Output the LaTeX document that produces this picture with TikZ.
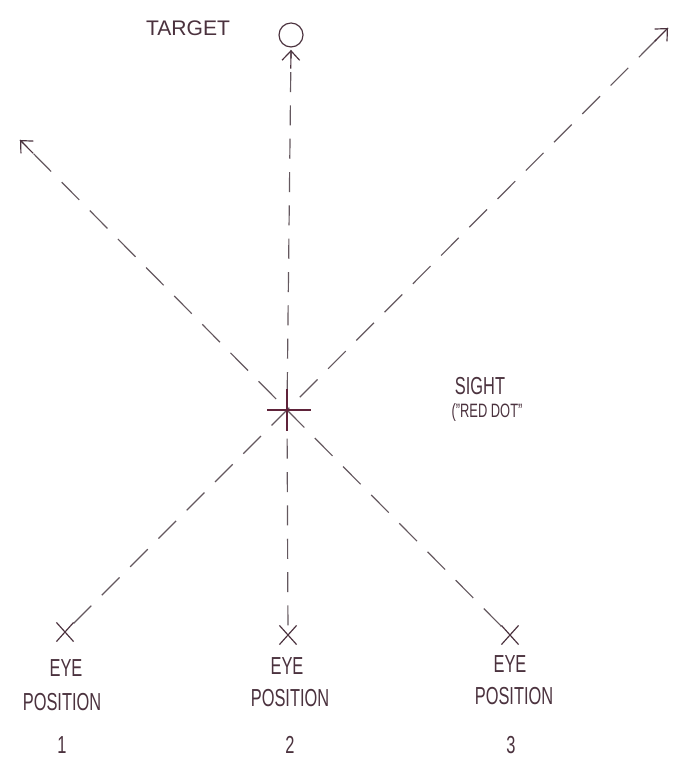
\documentclass[tikz,border=0pt]{standalone}
\usepackage{graphicx}
\usepackage{fontspec}
\setmainfont{Liberation Sans}
\usetikzlibrary{arrows.meta,shapes.misc,calc}
\definecolor{ink}{RGB}{75,50,62}
\definecolor{pen}{RGB}{100,88,95}
\definecolor{dotc}{RGB}{95,35,58}
\newcommand{\tall}[1]{\scalebox{1}[1.5]{#1}}
\begin{document}
\begin{tikzpicture}[x=0.03cm,y=-0.03cm,
  hand/.style={font=\fontsize{14}{16}\selectfont, text=ink, inner sep=0pt},
  eyemark/.style={cross out, draw=ink, line width=1pt, minimum width=0.48cm, minimum height=0.54cm, inner sep=0pt},
  targetmark/.style={circle, draw=ink, line width=1pt, minimum size=0.72cm, inner sep=0pt},
  sightline/.style={draw=pen, line width=1pt, dash pattern=on 0.75cm off 0.45cm},
  vline/.style={draw=pen, line width=1pt, dash pattern=on 0.6cm off 0.4cm},
  tipline/.style={draw=ink, solid, line width=1pt, -{Straight Barb[length=8pt,width=15pt]}}]
\useasboundingbox[fill=white] (0,0) rectangle (679,765);
% marks
\node[targetmark] (tgt) at (291,35) {};
\node[eyemark] (e1) at (65,632) {};
\node[eyemark] (e2) at (288,635) {};
\node[eyemark] (e3) at (510,635) {};
\coordinate (s) at (287,410);
\coordinate (tr) at (668,28);
\coordinate (tl) at (20,140);
\coordinate (tb) at (291,50);
% sight lines
\draw[sightline] (e1) -- (s) -- (tr);
\draw[sightline] (e3) -- (s) -- (tl);
\draw[vline] (e2) -- (s) -- (tb);
% arrow tips
\draw[tipline] ($(tr)!16pt!(s)$) -- (tr);
\draw[tipline] ($(tl)!16pt!(s)$) -- (tl);
\draw[tipline] ($(tb)!16pt!(s)$) -- (tb);
% sight cross
\draw[dotc, line width=1.5pt] (s) ++(-20,0) -- ++(44,0);
\draw[dotc, line width=1.5pt] (s) ++(0,-21) -- ++(0,42);
% labels
\node[hand, font=\fontsize{18}{20}\selectfont] (tlab) at (188,28) {TARGET};
\node[hand] (slab1) at (480,386) {\tall{SIGHT}};
\node[hand, font=\fontsize{11}{13}\selectfont] (slab2) at (487,412) {\tall{("RED DOT"}};
\node[hand] (l1a) at (66,668) {\tall{EYE}};
\node[hand] (l1b) at (62,702) {\tall{POSITION}};
\node[hand] (l1c) at (62,745) {\tall{1}};
\node[hand] (l2a) at (287,666) {\tall{EYE}};
\node[hand] (l2b) at (290,698) {\tall{POSITION}};
\node[hand] (l2c) at (290,745) {\tall{2}};
\node[hand] (l3a) at (510,664) {\tall{EYE}};
\node[hand] (l3b) at (514,696) {\tall{POSITION}};
\node[hand] (l3c) at (511,745) {\tall{3}};
\end{tikzpicture}
\end{document}
